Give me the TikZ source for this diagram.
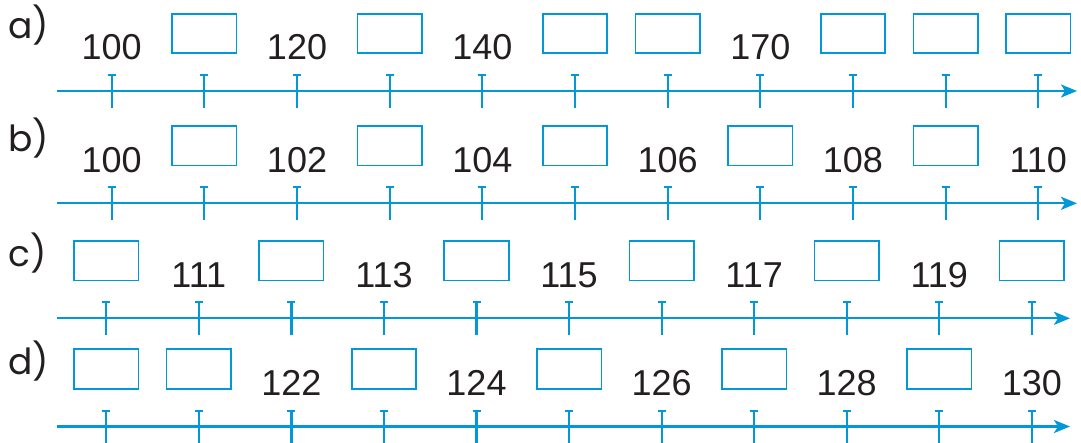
\documentclass[tikz,border=0pt]{standalone}
\usepackage{fontspec}
\setmainfont{Liberation Sans}
\newfontfamily\labfont{Poppins}
\usetikzlibrary{arrows.meta}
\definecolor{nlblue}{RGB}{0,152,216}
\definecolor{ink}{RGB}{35,31,32}
\tikzset{
  axisline/.style={nlblue, line width=2.4pt, -{Stealth[length=16pt,width=13pt,inset=4pt]}},
  tickline/.style={nlblue, line width=2.2pt},
  tickserif/.style={nlblue, line width=2pt},
  answerbox/.style={draw=nlblue, line width=1.6pt, minimum width=64.5pt, minimum height=39.5pt, inner sep=0pt},
  numlabel/.style={anchor=base, inner sep=0pt, text=ink, font=\fontsize{36}{40}\selectfont},
  rowlabel/.style={anchor=base west, inner sep=0pt, text=ink, font=\labfont\fontsize{36}{40}\selectfont},
}
\def\boxmark{x}
\newcommand\numrow[7]{%
  \coordinate (#1-start) at (57,#3);
  \coordinate (#1-end) at (#6,#3);
  \draw[axisline] (#1-start) -- (#1-end);
  \node[rowlabel] (#1-label) at (8,#3-52) {#2};
  \foreach \v [count=\i from 0] in {#7} {
    \coordinate (#1-t\i) at (#4+\i*#5,#3);
    \draw[tickline] ([yshift=16pt]#1-t\i) -- ([yshift=-17pt]#1-t\i);
    \draw[tickserif] ([xshift=-4pt,yshift=16pt]#1-t\i) -- ([xshift=4pt,yshift=16pt]#1-t\i);
    \edef\tmpv{\v}%
    \ifx\tmpv\boxmark
      \node[answerbox] (#1-b\i) at ([yshift=57.5pt]#1-t\i) {};
    \else
      \node[numlabel] (#1-n\i) at ([yshift=31pt]#1-t\i) {\v};
    \fi
  }
}
\begin{document}
\begin{tikzpicture}[x=1pt,y=-1pt]
  \useasboundingbox (0,0) rectangle (1081,443);
  \numrow{ra}{a)}{91}{111.7}{92.66}{1077}{100,x,120,x,140,x,x,170,x,x,x}
  \numrow{rb}{b)}{203.3}{111.7}{92.66}{1077}{100,x,102,x,104,x,106,x,108,x,110}
  \numrow{rc}{c)}{318.3}{106.3}{92.55}{1070}{x,111,x,113,x,115,x,117,x,119,x}
  \numrow{rd}{d)}{426.5}{106.3}{92.55}{1070}{x,x,122,x,124,x,126,x,128,x,130}
\end{tikzpicture}
\end{document}
